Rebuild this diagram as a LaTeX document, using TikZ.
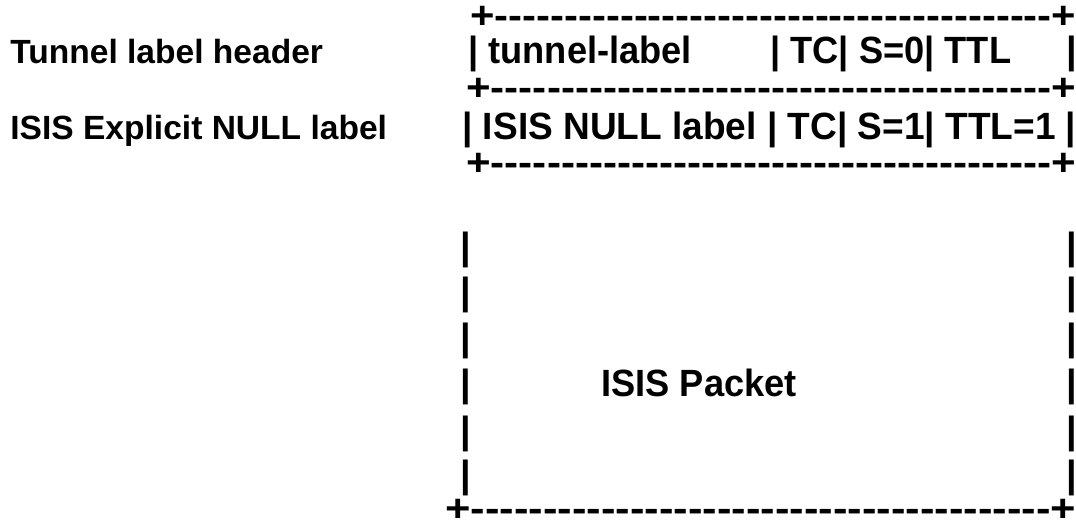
\documentclass[tikz,border=0pt]{standalone}
\usepackage{graphicx}
\usepackage{fontspec}
\newfontfamily\asciifont{Liberation Sans}
\usetikzlibrary{positioning}
\newcommand{\fitrow}[2]{\resizebox{#1}{\height}{#2}}
\newcommand{\narrow}[1]{\scalebox{0.955}[1]{#1}}
\newcommand{\dashrule}{+----------------------------------------+}
\tikzset{
  leftlabel/.style={anchor=base west,inner sep=0pt,font=\asciifont\bfseries\fontsize{19.1}{19.1}\selectfont},
  asciirow/.style={anchor=base west,inner sep=0pt,font=\asciifont\bfseries\fontsize{21.6}{21.6}\selectfont},
}

\begin{document}
\begin{tikzpicture}[x=0.02cm,y=-0.02cm]
  \useasboundingbox (0,0) rectangle (1076,520);
  % labels on the left
  \node[leftlabel] (tunnelhead) at (10,64) {Tunnel label header};
  \node[leftlabel] (nullhead) at (10,140) {ISIS Explicit NULL label};
  % label stack
  \node[asciirow] (rule1) at (470,29) {\fitrow{12.12cm}{\dashrule}};
  \node[asciirow] (tunnelrow) at (468,64) {\narrow{| tunnel-label}};
  \node[asciirow] (tunnelfields) at (770,64) {\narrow{| TC| S=0| TTL}};
  \node[asciirow] (tunnelend) at (1066,64) {|};
  \node[asciirow] (rule2) at (466,101) {\fitrow{12.2cm}{\dashrule}};
  \node[asciirow] (nullrow) at (462,140) {\fitrow{12.28cm}{| ISIS NULL label | TC| S=1| TTL=1 |}};
  \node[asciirow] (rule3) at (466,176) {\fitrow{12.2cm}{\dashrule}};
  % packet body
  \foreach \y [count=\i] in {260,305,351,397,443,487}{
    \node[asciirow] (lbar\i) at (460,\y) {|};
    \node[asciirow] (rbar\i) at (1066,\y) {|};
  }
  \node[asciirow] (packet) at (601,397) {\narrow{ISIS Packet}};
  \node[asciirow] (rule4) at (445,521) {\fitrow{12.62cm}{\dashrule}};
\end{tikzpicture}
\end{document}
